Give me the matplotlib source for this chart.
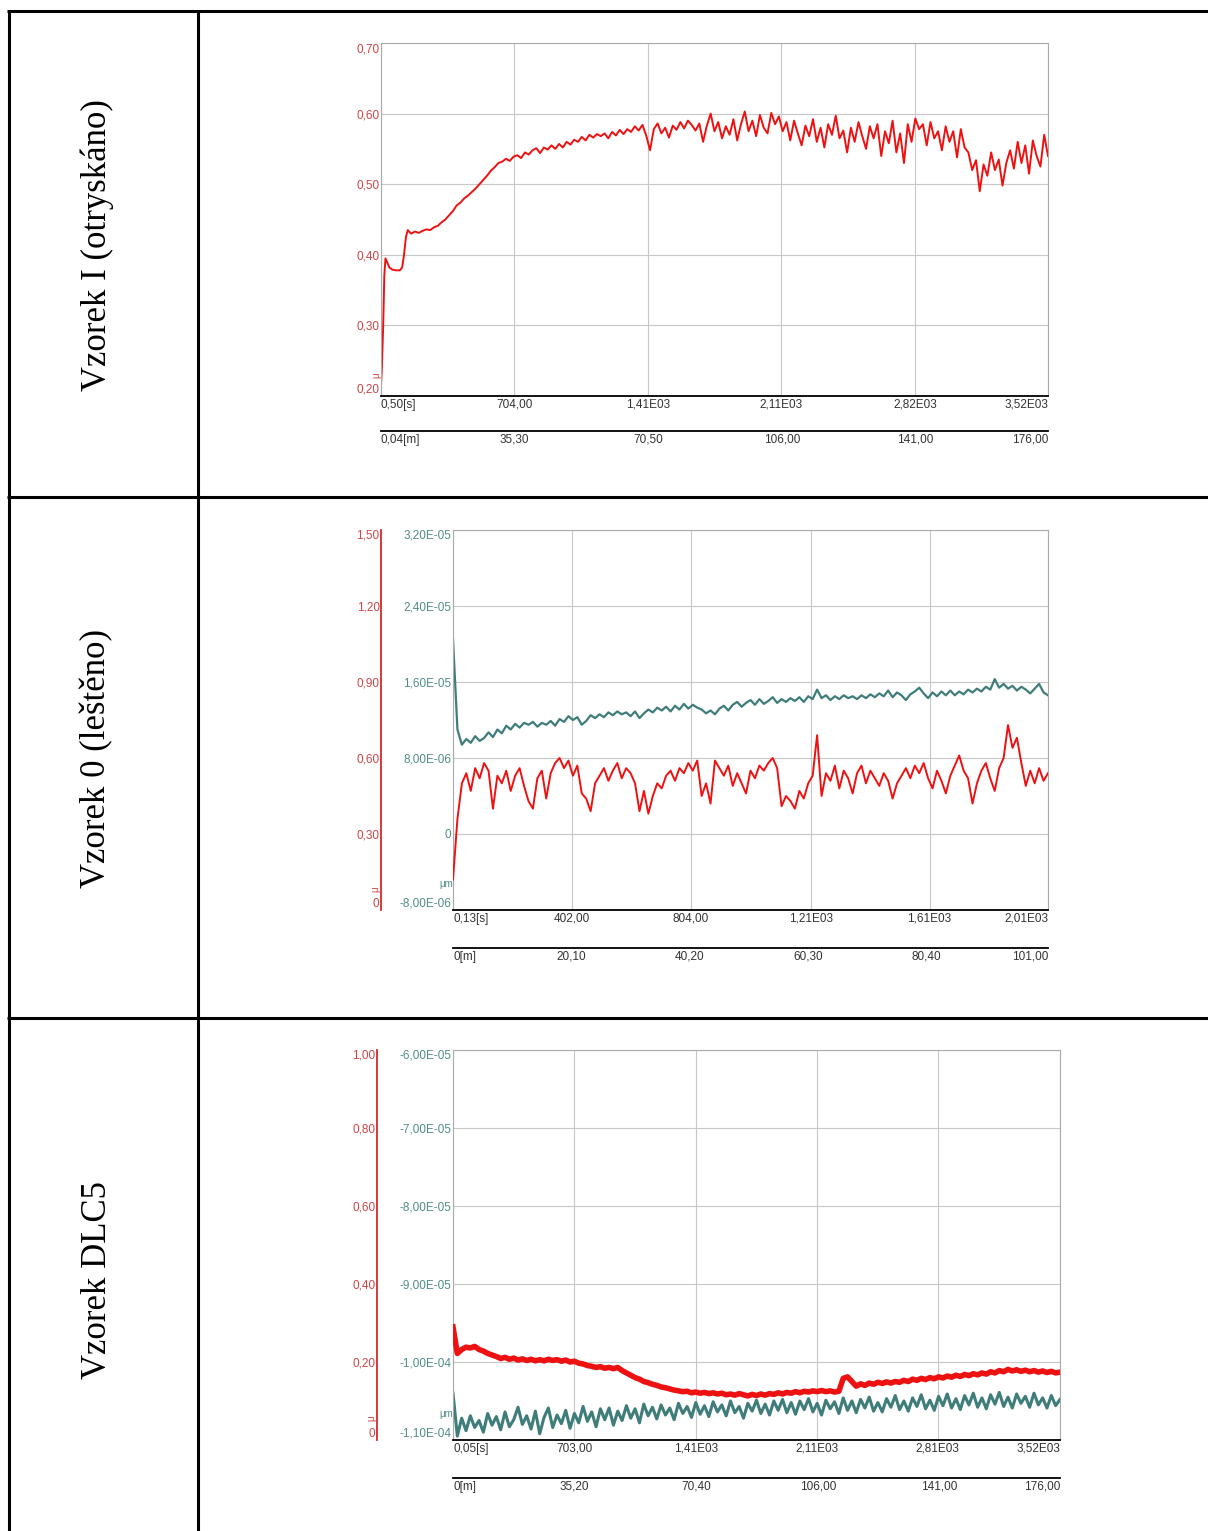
import numpy as np
import matplotlib.pyplot as plt

W, H = 1208, 1531

row_labels = ["Vzorek I (otryskáno)", "Vzorek 0 (leštěno)", "Vzorek DLC5"]

# ---- Vzorek I : friction coefficient ----
cof1_head_t = [0.5, 5, 12, 18, 24, 32, 45, 60, 80, 100, 112, 122, 132, 142, 152]
cof1_head = [0.215, 0.24, 0.30, 0.37, 0.395, 0.39, 0.382, 0.379, 0.378, 0.378,
             0.382, 0.40, 0.425, 0.435, 0.432]
cof1_body_start, cof1_body_end = 160, 3520
cof1_body = [
    0.430, 0.433, 0.431, 0.434, 0.436, 0.435, 0.439, 0.441, 0.446, 0.450,
    0.456, 0.462, 0.470, 0.474, 0.480, 0.484, 0.489, 0.494, 0.500, 0.506,
    0.512, 0.519, 0.524, 0.530, 0.532, 0.536, 0.533, 0.539, 0.541, 0.537,
    0.545, 0.542, 0.548, 0.551, 0.544, 0.552, 0.549, 0.555, 0.550, 0.557,
    0.552, 0.560, 0.556, 0.563, 0.560, 0.567, 0.562, 0.570, 0.566, 0.571,
    0.568, 0.572, 0.565, 0.574, 0.569, 0.577, 0.571, 0.578, 0.574, 0.582,
    0.576, 0.584, 0.569, 0.548, 0.578, 0.586, 0.572, 0.580, 0.566, 0.583,
    0.577, 0.588, 0.579, 0.590, 0.584, 0.576, 0.586, 0.560, 0.583, 0.600,
    0.575, 0.588, 0.565, 0.582, 0.570, 0.592, 0.562, 0.585, 0.603, 0.575,
    0.590, 0.568, 0.598, 0.580, 0.572, 0.601, 0.585, 0.596, 0.575, 0.588,
    0.562, 0.590, 0.572, 0.555, 0.583, 0.568, 0.592, 0.560, 0.580, 0.552,
    0.585, 0.570, 0.597, 0.565, 0.576, 0.545, 0.580, 0.560, 0.588, 0.568,
    0.550, 0.582, 0.565, 0.585, 0.540, 0.575, 0.558, 0.590, 0.545, 0.572,
    0.530, 0.585, 0.560, 0.593, 0.578, 0.585, 0.555, 0.588, 0.565, 0.575,
    0.548, 0.582, 0.560, 0.575, 0.538, 0.578, 0.552, 0.545, 0.520, 0.534,
    0.490, 0.528, 0.512, 0.545, 0.520, 0.535, 0.498, 0.530, 0.548, 0.522,
    0.560, 0.530, 0.555, 0.515, 0.562, 0.540, 0.525, 0.570, 0.540,
]
s_ticks_1 = [0.5, 704, 1410, 2110, 2820, 3520]
s_labels_1 = ["0,50[s]", "704,00", "1,41E03", "2,11E03", "2,82E03", "3,52E03"]
m_lim_1 = (0.04, 176)
m_ticks_1 = [0.04, 35.3, 70.5, 106, 141, 176]
m_labels_1 = ["0,04[m]", "35,30", "70,50", "106,00", "141,00", "176,00"]
cof_ticks_1 = [0.2, 0.3, 0.4, 0.5, 0.6, 0.7]
cof_labels_1 = ["0,20", "0,30", "0,40", "0,50", "0,60", "0,70"]

# ---- Vzorek 0 : friction coefficient + wear depth ----
t2_start, t2_end = 0.13, 2010
cof2 = [
    0.12, 0.36, 0.50, 0.54, 0.47, 0.56, 0.52, 0.58, 0.55, 0.40,
    0.53, 0.50, 0.55, 0.47, 0.53, 0.56, 0.49, 0.43, 0.40, 0.52,
    0.55, 0.44, 0.54, 0.58, 0.60, 0.56, 0.59, 0.53, 0.57, 0.46,
    0.44, 0.39, 0.50, 0.53, 0.56, 0.51, 0.55, 0.58, 0.52, 0.56,
    0.54, 0.50, 0.39, 0.47, 0.38, 0.45, 0.50, 0.48, 0.53, 0.55,
    0.51, 0.56, 0.54, 0.58, 0.55, 0.59, 0.45, 0.50, 0.42, 0.59,
    0.56, 0.53, 0.57, 0.49, 0.54, 0.50, 0.46, 0.55, 0.52, 0.57,
    0.55, 0.58, 0.60, 0.56, 0.41, 0.45, 0.43, 0.40, 0.47, 0.44,
    0.50, 0.53, 0.69, 0.45, 0.54, 0.51, 0.57, 0.48, 0.55, 0.52,
    0.46, 0.54, 0.57, 0.50, 0.55, 0.52, 0.49, 0.54, 0.51, 0.44,
    0.50, 0.53, 0.56, 0.52, 0.57, 0.54, 0.58, 0.52, 0.48, 0.55,
    0.51, 0.46, 0.53, 0.57, 0.61, 0.55, 0.52, 0.42, 0.50, 0.55,
    0.58, 0.52, 0.47, 0.56, 0.60, 0.73, 0.64, 0.68, 0.58, 0.49,
    0.55, 0.50, 0.56, 0.51, 0.54,
]
depth2_um = [
    20.5, 11.0, 9.4, 10.0, 9.6, 10.3, 9.8, 10.1, 10.7, 10.2,
    11.0, 10.6, 11.4, 11.0, 11.6, 11.2, 11.7, 11.5, 11.8, 11.3,
    11.7, 11.5, 11.9, 11.4, 12.1, 11.8, 12.4, 12.0, 12.3, 11.5,
    11.9, 12.5, 12.2, 12.6, 12.3, 12.8, 12.5, 12.9, 12.6, 12.8,
    12.4, 12.9, 12.2, 12.7, 13.1, 12.8, 13.3, 13.0, 13.4, 12.9,
    13.5, 13.1, 13.7, 13.2, 13.6, 13.3, 13.1, 12.7, 13.0, 12.6,
    13.2, 13.5, 13.0, 13.6, 13.9, 13.4, 13.8, 14.1, 13.6, 14.2,
    13.7, 14.0, 14.4, 13.8, 14.2, 13.9, 14.3, 14.0, 14.4, 13.9,
    14.5, 14.2, 15.2, 14.3, 14.6, 14.1, 14.5, 14.2, 14.6, 14.3,
    14.5, 14.2, 14.6, 14.3, 14.7, 14.4, 14.8, 14.5, 15.1, 14.4,
    14.9, 14.6, 14.1, 14.7, 15.0, 15.4, 14.8, 14.3, 14.9, 14.5,
    15.0, 14.6, 15.1, 14.6, 15.0, 14.7, 15.2, 14.9, 15.3, 15.0,
    15.5, 15.2, 16.3, 15.4, 15.8, 15.3, 15.6, 15.1, 15.5, 15.2,
    14.8, 15.3, 15.8, 14.9, 14.6,
]
s_ticks_2 = [0.13, 402, 804, 1210, 1610, 2010]
s_labels_2 = ["0,13[s]", "402,00", "804,00", "1,21E03", "1,61E03", "2,01E03"]
m_lim_2 = (0, 101)
m_ticks_2 = [0, 20.1, 40.2, 60.3, 80.4, 101]
m_labels_2 = ["0[m]", "20,10", "40,20", "60,30", "80,40", "101,00"]
cof_ticks_2 = [0, 0.3, 0.6, 0.9, 1.2, 1.5]
cof_labels_2 = ["0", "0,30", "0,60", "0,90", "1,20", "1,50"]
depth_ticks_2 = [-8e-6, 0, 8e-6, 1.6e-5, 2.4e-5, 3.2e-5]
depth_labels_2 = ["-8,00E-06", "0", "8,00E-06", "1,60E-05", "2,40E-05", "3,20E-05"]

# ---- Vzorek DLC5 : friction coefficient + wear depth ----
t3_start, t3_end = 0.05, 3520
cof3 = [
    0.290, 0.222, 0.232, 0.238, 0.236, 0.240, 0.232, 0.228, 0.222, 0.218,
    0.214, 0.209, 0.212, 0.207, 0.210, 0.205, 0.208, 0.204, 0.207, 0.203,
    0.206, 0.203, 0.207, 0.204, 0.206, 0.202, 0.205, 0.200, 0.202, 0.197,
    0.195, 0.191, 0.189, 0.186, 0.188, 0.184, 0.186, 0.183, 0.186, 0.178,
    0.172, 0.166, 0.160, 0.156, 0.150, 0.147, 0.143, 0.140, 0.136, 0.134,
    0.131, 0.128, 0.126, 0.124, 0.125, 0.121, 0.123, 0.120, 0.122, 0.119,
    0.121, 0.118, 0.120, 0.116, 0.118, 0.115, 0.119, 0.116, 0.113, 0.117,
    0.114, 0.118, 0.115, 0.119, 0.117, 0.121, 0.118, 0.122, 0.120, 0.124,
    0.121, 0.125, 0.123, 0.126, 0.124, 0.127, 0.124, 0.126, 0.123, 0.125,
    0.158, 0.162, 0.150, 0.138, 0.144, 0.140, 0.146, 0.143, 0.148, 0.145,
    0.149, 0.146, 0.150, 0.148, 0.153, 0.150, 0.156, 0.153, 0.158, 0.155,
    0.160, 0.157, 0.162, 0.159, 0.164, 0.161, 0.166, 0.163, 0.168, 0.165,
    0.170, 0.167, 0.172, 0.169, 0.175, 0.172, 0.178, 0.175, 0.181, 0.177,
    0.180, 0.176, 0.179, 0.175, 0.178, 0.174, 0.177, 0.173, 0.176, 0.172,
    0.174,
]
depth3_um = [
    -104.0, -109.5, -107.2, -108.8, -106.9, -108.4, -107.5, -109.0, -106.6, -108.1,
    -107.0, -108.7, -106.4, -108.3, -107.4, -105.8, -108.0, -106.9, -108.6, -106.3,
    -109.2, -107.1, -105.9, -108.4, -106.8, -107.9, -106.2, -108.5, -106.6, -107.8,
    -105.7, -107.6, -106.4, -108.3, -106.0, -107.4, -105.9, -108.1, -106.3, -107.5,
    -105.6, -107.2, -106.0, -107.8, -105.4, -106.9, -105.8, -107.3, -105.5, -106.8,
    -105.9, -107.4, -105.3, -106.6, -105.7, -107.1, -105.2, -106.7, -105.6, -107.0,
    -105.1, -106.4, -105.5, -106.9, -105.0, -106.5, -105.7, -107.2, -105.3, -106.3,
    -104.9, -106.6, -105.4, -106.8, -105.0, -106.2, -104.8, -106.5, -105.2, -106.7,
    -105.0, -106.1, -104.7, -106.4, -105.3, -106.8, -104.9, -106.0, -105.1, -106.6,
    -104.6, -106.2, -105.0, -106.5, -104.8, -105.9, -104.5, -106.3, -105.2, -106.4,
    -104.7, -105.8, -104.3, -106.1, -105.0, -106.3, -104.6, -105.7, -104.2, -106.0,
    -104.9, -106.2, -104.4, -105.6, -104.1, -105.9, -104.7, -106.1, -104.3, -105.5,
    -104.0, -105.8, -104.6, -106.0, -104.2, -105.4, -103.9, -105.7, -104.5, -105.9,
    -104.1, -105.3, -104.4, -105.8, -104.0, -105.5, -104.6, -105.9, -104.3, -105.6,
    -104.8,
]
s_ticks_3 = [0.05, 703, 1410, 2110, 2810, 3520]
s_labels_3 = ["0,05[s]", "703,00", "1,41E03", "2,11E03", "2,81E03", "3,52E03"]
m_lim_3 = (0, 176)
m_ticks_3 = [0, 35.2, 70.4, 106, 141, 176]
m_labels_3 = ["0[m]", "35,20", "70,40", "106,00", "141,00", "176,00"]
cof_ticks_3 = [0, 0.2, 0.4, 0.6, 0.8, 1.0]
cof_labels_3 = ["0", "0,20", "0,40", "0,60", "0,80", "1,00"]
depth_ticks_3 = [-1.1e-4, -1.0e-4, -9e-5, -8e-5, -7e-5, -6e-5]
depth_labels_3 = ["-1,10E-04", "-1,00E-04", "-9,00E-05", "-8,00E-05", "-7,00E-05", "-6,00E-05"]

RED = "#ee1111"
RED_TXT = "#cf4545"
RED_AX = "#d42a2a"
TEAL = "#3f7d7a"
TEAL_TXT = "#4f8c89"
GRID = "#c8c8c8"
FRAME = "#aaaaaa"
XCOL = "#333333"
TS = 8.5
PT = 0.72  # points per pixel at dpi 100

plt.rcParams["font.family"] = ["Liberation Sans", "DejaVu Sans"]

fig = plt.figure(figsize=(W / 100, H / 100), dpi=100)


def box(x0, y0, x1, y1):
    return [x0 / W, 1 - y1 / H, (x1 - x0) / W, (y1 - y0) / H]


def edge_align(labels, key, first, last):
    labels[0].set(**{key: first})
    labels[-1].set(**{key: last})


def chart_axes(rect, s_lim, s_ticks, s_labels, m_lim, m_ticks, m_labels, m_gap):
    ax = fig.add_axes(box(*rect))
    ax.set_xlim(*s_lim)
    ax.set_xticks(s_ticks)
    ax.set_xticklabels(s_labels)
    ax.grid(True, color=GRID, lw=0.8)
    ax.set_axisbelow(True)
    for side in ("top", "right", "left"):
        ax.spines[side].set_color(FRAME)
        ax.spines[side].set_linewidth(0.8)
    ax.spines["bottom"].set_color("black")
    ax.spines["bottom"].set_linewidth(1.3)
    ax.tick_params(axis="x", length=0, labelsize=TS, labelcolor=XCOL, pad=2)
    edge_align(ax.get_xticklabels(), "ha", "left", "right")

    # second (distance) axis under the time axis
    axm = ax.twiny()
    axm.set_xlim(*m_lim)
    axm.xaxis.set_ticks_position("bottom")
    axm.spines["bottom"].set_position(("outward", m_gap * PT))
    for side in ("top", "right", "left"):
        axm.spines[side].set_visible(False)
    axm.spines["bottom"].set_linewidth(1.3)
    axm.set_xticks(m_ticks)
    axm.set_xticklabels(m_labels)
    axm.tick_params(axis="x", length=0, labelsize=TS, labelcolor=XCOL, pad=2)
    edge_align(axm.get_xticklabels(), "ha", "left", "right")
    return ax


def y_labels(ax, ticks, labels, color):
    ax.set_ylim(ticks[0], ticks[-1])
    ax.set_yticks(ticks)
    ax.set_yticklabels(labels)
    ax.tick_params(axis="y", length=0, labelsize=TS, labelcolor=color, pad=1)
    edge_align(ax.get_yticklabels(), "va", "bottom", "top")


def red_axis(ax, gap, ticks, labels):
    axr = ax.twinx()
    axr.yaxis.set_ticks_position("left")
    axr.yaxis.set_label_position("left")
    axr.spines["left"].set_position(("outward", gap * PT))
    axr.spines["left"].set_color(RED_AX)
    axr.spines["left"].set_linewidth(1.3)
    for side in ("top", "right", "bottom"):
        axr.spines[side].set_visible(False)
    y_labels(axr, ticks, labels, RED_TXT)
    return axr


def mu_label(ax, x, y):
    ax.set_ylabel("μ", fontsize=7, color=RED_TXT, rotation=90)
    ax.yaxis.set_label_coords(x, y)


# table frame and row labels
bg = fig.add_axes([0, 0, 1, 1])
bg.set_xlim(0, W)
bg.set_ylim(H, 0)
bg.axis("off")
for yy in (11, 497, 1018):
    bg.plot([7, W], [yy, yy], color="black", lw=2.2, solid_capstyle="butt")
for xx in (8.5, 198):
    bg.plot([xx, xx], [10, H], color="black", lw=2.2, solid_capstyle="butt")
for label, yc in zip(row_labels, (245, 759, 1280)):
    bg.text(97, yc, label, rotation=90, ha="center", va="center",
            fontsize=25, family="Liberation Serif", color="black")

# chart 1
ax1 = chart_axes((381, 43, 1048, 396), (s_ticks_1[0], s_ticks_1[-1]), s_ticks_1, s_labels_1,
                 m_lim_1, m_ticks_1, m_labels_1, 35)
y_labels(ax1, cof_ticks_1, cof_labels_1, RED_TXT)
t1 = cof1_head_t + list(np.linspace(cof1_body_start, cof1_body_end, len(cof1_body)))
ax1.plot(t1, cof1_head + cof1_body, color=RED, lw=1.4)
mu_label(ax1, 0.0, 0.06)

# chart 2
ax2 = chart_axes((453, 530, 1048, 910), (t2_start, t2_end), s_ticks_2, s_labels_2,
                 m_lim_2, m_ticks_2, m_labels_2, 38)
y_labels(ax2, depth_ticks_2, depth_labels_2, TEAL_TXT)
t2 = np.linspace(t2_start, t2_end, len(cof2))
ax2.plot(t2, np.array(depth2_um) * 1e-6, color=TEAL, lw=1.6)
ax2.text(0, 0.055, "μm", transform=ax2.transAxes, ha="right", va="bottom",
         fontsize=7, color=TEAL_TXT)
ax2r = red_axis(ax2, 72, cof_ticks_2, cof_labels_2)
ax2r.plot(t2, cof2, color=RED, lw=1.4)
mu_label(ax2r, -73 / 595, 0.055)

# chart 3
ax3 = chart_axes((453, 1050, 1060, 1440), (t3_start, t3_end), s_ticks_3, s_labels_3,
                 m_lim_3, m_ticks_3, m_labels_3, 38)
y_labels(ax3, depth_ticks_3, depth_labels_3, TEAL_TXT)
t3 = np.linspace(t3_start, t3_end, len(cof3))
ax3.plot(t3, np.array(depth3_um) * 1e-6, color=TEAL, lw=2.2)
ax3.text(0, 0.055, "μm", transform=ax3.transAxes, ha="right", va="bottom",
         fontsize=7, color=TEAL_TXT)
ax3r = red_axis(ax3, 76, cof_ticks_3, cof_labels_3)
ax3r.plot(t3, cof3, color=RED, lw=4.0)
mu_label(ax3r, -77 / 607, 0.055)

fig.savefig("out.png", dpi=100)
